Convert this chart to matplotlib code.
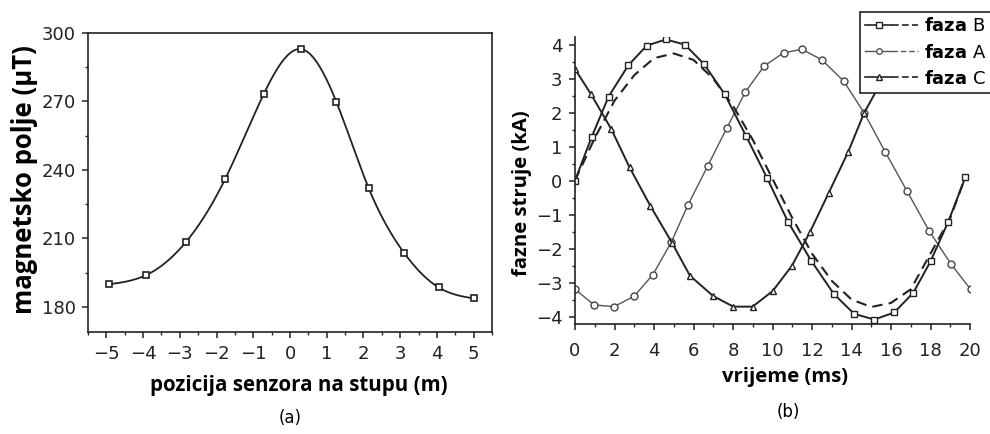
import numpy as np
import matplotlib
matplotlib.use("Agg")
import matplotlib.pyplot as plt
from matplotlib.lines import Line2D
from matplotlib.legend_handler import HandlerTuple
from matplotlib.ticker import MultipleLocator

# (a) magnetic field along the pole
pos = [-4.93, -3.92, -2.84, -1.76, -0.72, 0.31, 1.26, 2.14, 3.10, 4.05, 5.0]
field = [189.9, 193.9, 208.3, 236.2, 273.1, 292.9, 269.9, 232.1, 203.8, 188.5, 183.7]

# (b) phase currents
tB = [0, 0.85, 1.7, 2.7, 3.63, 4.6, 5.56, 6.54, 7.58, 8.67, 9.72, 10.79,
      11.96, 13.11, 14.13, 15.15, 16.17, 17.13, 18.0, 18.9, 19.76]
iB = [0, 1.29, 2.47, 3.39, 3.97, 4.15, 4.0, 3.42, 2.54, 1.3, 0.08, -1.22,
      -2.36, -3.34, -3.92, -4.09, -3.88, -3.30, -2.38, -1.21, 0.09]
tB_calc = [0, 1, 2, 3, 4, 5, 6, 7, 8, 9, 10, 11, 12, 13, 14, 15, 16, 17, 18, 19, 19.7]
iB_calc = [0, 1.25, 2.35, 3.1, 3.6, 3.74, 3.55, 3.0, 2.2, 1.2, 0.05, -1.1, -2.15,
           -2.95, -3.5, -3.72, -3.6, -3.2, -2.15, -1.1, 0.0]
tA = [0, 0.97, 1.98, 3.0, 3.94, 4.87, 5.71, 6.72, 7.7, 8.63, 9.58, 10.56, 11.5,
      12.5, 13.6, 14.64, 15.7, 16.82, 17.93, 19.03, 20.03]
iA = [-3.2, -3.66, -3.71, -3.40, -2.77, -1.82, -0.73, 0.43, 1.56, 2.61, 3.37,
      3.76, 3.86, 3.55, 2.93, 1.99, 0.85, -0.32, -1.48, -2.45, -3.2]
tC = [0, 0.8, 1.83, 2.76, 3.82, 4.92, 5.82, 7.0, 8.02, 8.99, 10.01, 10.98,
      11.91, 12.84, 13.83, 14.64, 15.6]
iC = [3.28, 2.55, 1.52, 0.39, -0.75, -1.84, -2.80, -3.40, -3.71, -3.71, -3.25,
      -2.51, -1.50, -0.37, 0.84, 1.99, 3.0]


def spline(x, y, n=400):
    # natural cubic spline for the smooth curve through the markers
    x = np.asarray(x, float)
    y = np.asarray(y, float)
    m = len(x)
    h = np.diff(x)
    A = np.zeros((m, m))
    r = np.zeros(m)
    A[0, 0] = A[-1, -1] = 1
    for i in range(1, m - 1):
        A[i, i - 1] = h[i - 1]
        A[i, i] = 2 * (h[i - 1] + h[i])
        A[i, i + 1] = h[i]
        r[i] = 6 * ((y[i + 1] - y[i]) / h[i] - (y[i] - y[i - 1]) / h[i - 1])
    M = np.linalg.solve(A, r)
    xs = np.linspace(x[0], x[-1], n)
    k = np.clip(np.searchsorted(x, xs) - 1, 0, m - 2)
    a = x[k + 1] - xs
    b = xs - x[k]
    hk = h[k]
    ys = (M[k] * a**3 + M[k + 1] * b**3) / (6 * hk) \
        + (y[k] / hk - M[k] * hk / 6) * a + (y[k + 1] / hk - M[k + 1] * hk / 6) * b
    return xs, ys


W, H = 990, 434
lab = dict(family="Open Sans", fontweight="bold", ha="center", va="center")
tick_font = "DejaVu Sans"

fig = plt.figure(figsize=(9.9, 4.34), dpi=100)

# ---- (a)
ax1 = fig.add_axes([88 / W, 0.235, 404 / W, 0.689])
xs, ys = spline(pos, field)
ax1.plot(xs, ys, color="#222222", lw=1.3)
ax1.plot(pos, field, ls="none", marker="s", ms=5, mfc="white", mec="#222222", mew=1.2)
ax1.set_xlim(-5.5, 5.5)
ax1.set_ylim(169, 300)
ax1.set_yticks([180, 210, 240, 270, 300])
ax1.set_xticks(range(-5, 6))
ax1.set_xticklabels(["\u22125", "\u22124", "\u22123", "\u22122", "\u22121", "0", "1", "2", "3", "4", "5"])
ax1.xaxis.set_minor_locator(MultipleLocator(0.5))
ax1.yaxis.set_minor_locator(MultipleLocator(15))
fig.text(299 / W, 1 - 385 / H, "pozicija senzora na stupu (m)", fontsize=14.8, **lab)
fig.text(25 / W, 1 - 180 / H, "magnetsko polje (\u00b5T)", fontsize=18.5, rotation=90, **lab)
fig.text(290 / W, 1 - 418 / H, "(a)", ha="center", va="center", fontsize=12, family="DejaVu Sans")

# ---- (b)
ax2 = fig.add_axes([575 / W, 0.2535, 395 / W, 0.661])
ax2.plot(tA, iA, color="#555555", lw=1.0, marker="o", ms=5, mfc="white", mec="#444444", mew=1.0)
ax2.plot(tC, iC, color="#222222", lw=1.4, marker="^", ms=4.5, mfc="white", mec="#222222", mew=1.0)
ax2.plot(tB_calc, iB_calc, color="#222222", lw=1.5, ls=(0, (5, 3)))
ax2.plot(tB, iB, color="#222222", lw=1.4, marker="s", ms=4.5, mfc="white", mec="#222222", mew=1.0)
ax2.set_xlim(0, 20)
ax2.set_ylim(-4.22, 4.22)
ax2.set_xticks(range(0, 21, 2))
ax2.set_yticks(range(-4, 5))
ax2.set_yticklabels(["\u22124", "\u22123", "\u22122", "\u22121", "0", "1", "2", "3", "4"])
ax2.xaxis.set_minor_locator(MultipleLocator(1))
ax2.yaxis.set_minor_locator(MultipleLocator(0.5))
ax2.spines["top"].set_visible(False)
ax2.spines["right"].set_visible(False)
fig.text(785 / W, 1 - 377 / H, "vrijeme (ms)", fontsize=14.6, **lab)
fig.text(522 / W, 1 - 193 / H, "fazne struje (kA)", fontsize=14.6, rotation=90, **lab)
fig.text(788 / W, 1 - 412 / H, "(b)", ha="center", va="center", fontsize=12, family="DejaVu Sans")

for ax in (ax1, ax2):
    for sp in ax.spines.values():
        sp.set_linewidth(1.2)
        sp.set_color("#222222")
    ax.tick_params(which="major", direction="out", length=4, width=1.1,
                   labelsize=13, colors="#222222", pad=5)
    ax.tick_params(which="minor", direction="out", length=2.5, width=1.0, colors="#222222")
    for t in ax.get_xticklabels() + ax.get_yticklabels():
        t.set_family(tick_font)
ax2.tick_params(axis="x", which="major", pad=9)

# legend: measured (solid + marker) next to computed (dashed)
def entry(marker, ms, lw, col):
    solid = Line2D([], [], color=col, lw=lw, marker=marker, ms=ms, mfc="white", mec=col)
    dash = Line2D([], [], color=col, lw=lw, ls=(0, (4, 2)))
    return (solid, dash)

handles = [entry("s", 4, 1.2, "#222222"), entry("o", 4, 1.0, "#555555"), entry("^", 4, 1.2, "#222222")]
labels = ["faza $\\mathsf{B}$", "faza $\\mathsf{A}$", "faza $\\mathsf{C}$"]
leg = fig.legend(handles, labels, loc="upper left", bbox_to_anchor=(860 / W, 1 - 12 / H),
                 handler_map={tuple: HandlerTuple(ndivide=None, pad=0)},
                 prop=dict(family="DejaVu Sans", weight="bold", size=13),
                 handlelength=2.9, handletextpad=0.35, labelspacing=0.45,
                 borderpad=0.3, borderaxespad=0, fancybox=False, framealpha=1,
                 edgecolor="#222222")
leg.get_frame().set_linewidth(1.2)

fig.savefig("out.png", dpi=100)
